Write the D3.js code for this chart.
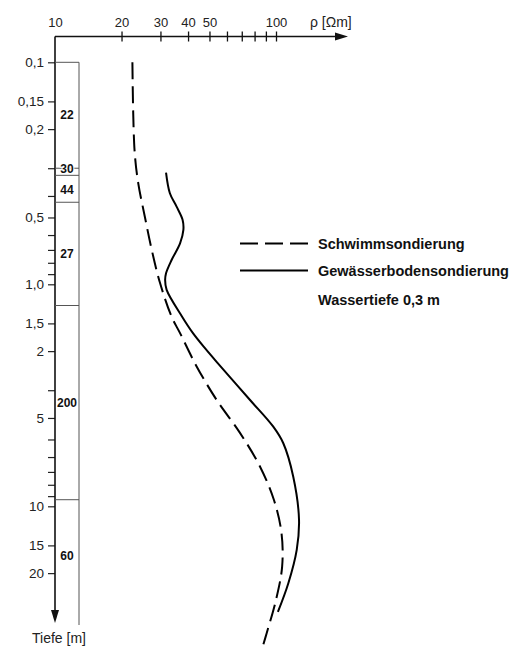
<!DOCTYPE html>
<html>
<head>
<meta charset="utf-8">
<script src="https://cdn.jsdelivr.net/npm/d3@7"></script>
<style>
  body { margin: 0; background: #fff; }
  svg { display: block; font-family: "Liberation Sans", Arial, sans-serif; }
</style>
</head>
<body>
<svg id="chart" width="518" height="646"></svg>
<script>
// resistivity axis (top)
const xTickValues = [10, 20, 30, 40, 50, 60, 70, 80, 90, 100];
const xTickLabels = ["10", "20", "30", "40", "50", "", "", "", "", "100"];

// depth axis (left)
const yLabelValues = [0.1, 0.15, 0.2, 0.5, 1, 1.5, 2, 4, 10, 15, 20];
const yLabelTexts = ["0,1", "0,15", "0,2", "0,5", "1,0", "1,5", "2", "5", "10", "15", "20"];
const yMinorValues = [0.3, 0.4, 0.6, 0.7, 0.8, 0.9, 3, 5, 6, 7, 8, 9];

// layer model
const layerTops = [0.1, 0.3, 0.323, 0.427, 1.246, 9.34];
const layerRho = [22, 30, 44, 27, 200, 60];
const layerLabelDepth = [0.173, 0.3, 0.373, 0.73, 3.4, 16.7];

// Schwimmsondierung: depth [m] / rho [Ohm m]
const swimDepth = [0.1, 0.248, 0.35, 0.496, 0.70, 0.99, 1.40, 1.66, 2.35, 3.32, 4.67, 6.63, 9.37, 13.2, 18.7, 26.4, 37.2, 42.5];
const swimRho   = [22.4, 22.9, 23.8, 25.5, 27.4, 29.9, 33.7, 36.8, 43.8, 53.9, 68.7, 84.7, 97.9, 105.9, 106.6, 100.0, 90.8, 87.3];

// Gewaesserbodensondierung
const bottomDepth = [0.314, 0.389, 0.447, 0.513, 0.569, 0.654, 0.777, 0.892, 0.957, 1.06, 1.40, 1.66, 1.94, 2.27, 3.32, 4.38, 5.2, 7.36, 11.5, 15.7, 22.2, 29.9];
const bottomRho   = [31.8, 33.1, 35.5, 37.8, 38.1, 36.8, 33.7, 31.8, 31.5, 32.0, 37.6, 42.1, 47.7, 54.6, 76.3, 97.2, 107.9, 119.7, 127.1, 124.1, 113.7, 102.0];

const seriesNames = ["Schwimmsondierung", "Gewässerbodensondierung"];
const noteText = "Wassertiefe 0,3 m";

const svg = d3.select("#chart");
const originX = 55, originY = 36.5;

const x = d3.scaleLog().domain([10, 100]).range([55, 276]);
const y = d3.scaleLog().domain([0.1, 10]).range([62.3, 506.3]);

// x axis
const gx = svg.append("g")
  .attr("transform", "translate(0," + originY + ")")
  .call(d3.axisTop(x)
    .tickValues(xTickValues)
    .tickFormat((d, i) => xTickLabels[i])
    .tickSizeInner(5)
    .tickSizeOuter(0)
    .tickPadding(5));
gx.select(".domain").remove();
gx.attr("font-size", 13).attr("font-family", null);
gx.selectAll(".tick line").attr("y1", 5).attr("stroke", "#111").attr("stroke-width", 1.3);
gx.selectAll(".tick").filter(d => d === 10).select("line").remove();
gx.selectAll(".tick text").attr("fill", "#222");

svg.append("line")
  .attr("x1", originX).attr("x2", 337)
  .attr("y1", originY).attr("y2", originY)
  .attr("stroke", "#111").attr("stroke-width", 1.6);
svg.append("path")
  .attr("d", "M335," + (originY - 4) + "L348," + originY + "L335," + (originY + 4) + "Z")
  .attr("fill", "#111");
svg.append("text")
  .attr("x", 310).attr("y", 26.5)
  .attr("font-size", 14).attr("fill", "#222")
  .text("ρ [Ωm]");

// y axis
const gy = svg.append("g")
  .attr("transform", "translate(" + originX + ",0)")
  .call(d3.axisLeft(y)
    .tickValues(yLabelValues.concat(yMinorValues))
    .tickFormat(d => {
      const i = yLabelValues.indexOf(d);
      return i >= 0 ? yLabelTexts[i] : "";
    })
    .tickSize(7)
    .tickPadding(4));
gy.select(".domain").remove();
gy.attr("font-size", 13.5).attr("font-family", null);
gy.selectAll(".tick line").attr("stroke", "#222").attr("stroke-width", 1.2);
gy.selectAll(".tick text").attr("fill", "#222");

svg.append("line")
  .attr("x1", originX).attr("x2", originX)
  .attr("y1", originY).attr("y2", 612)
  .attr("stroke", "#111").attr("stroke-width", 1.6);
svg.append("path")
  .attr("d", "M" + (originX - 4) + ",610L" + originX + ",623L" + (originX + 4) + ",610Z")
  .attr("fill", "#111");
svg.append("text")
  .attr("x", 59).attr("y", 643)
  .attr("text-anchor", "middle")
  .attr("font-size", 14).attr("fill", "#222")
  .text("Tiefe [m]");

// layer column
const colRight = 79;
svg.append("line")
  .attr("x1", colRight).attr("x2", colRight)
  .attr("y1", y(layerTops[0])).attr("y2", 625)
  .attr("stroke", "#555").attr("stroke-width", 1);
svg.selectAll(".layer-line")
  .data(layerTops)
  .enter().append("line")
  .attr("class", "layer-line")
  .attr("x1", originX).attr("x2", colRight)
  .attr("y1", d => y(d)).attr("y2", d => y(d))
  .attr("stroke", "#555").attr("stroke-width", 1);
svg.selectAll(".layer-label")
  .data(layerRho)
  .enter().append("text")
  .attr("class", "layer-label")
  .attr("x", 67)
  .attr("y", (d, i) => y(layerLabelDepth[i]))
  .attr("dy", "0.36em")
  .attr("text-anchor", "middle")
  .attr("font-size", 12).attr("font-weight", "bold")
  .attr("fill", "#111")
  .attr("stroke", "#fff").attr("stroke-width", 2).attr("paint-order", "stroke")
  .text(d => d);

// curves
const line = d3.line()
  .x(d => x(d[1]))
  .y(d => y(d[0]))
  .curve(d3.curveCatmullRom.alpha(0.5));

svg.append("path")
  .datum(d3.zip(swimDepth, swimRho))
  .attr("d", line)
  .attr("fill", "none")
  .attr("stroke", "#000").attr("stroke-width", 2)
  .attr("stroke-dasharray", "17,7");

svg.append("path")
  .datum(d3.zip(bottomDepth, bottomRho))
  .attr("d", line)
  .attr("fill", "none")
  .attr("stroke", "#000").attr("stroke-width", 2);

// legend
const legend = svg.append("g").attr("transform", "translate(240,243.5)");
legend.selectAll(".legend-line")
  .data(seriesNames)
  .enter().append("line")
  .attr("x1", 0).attr("x2", 68)
  .attr("y1", (d, i) => i * 27).attr("y2", (d, i) => i * 27)
  .attr("stroke", "#000").attr("stroke-width", 2)
  .attr("stroke-dasharray", (d, i) => i === 0 ? "18,7" : null);
legend.selectAll(".legend-text")
  .data(seriesNames.concat([noteText]))
  .enter().append("text")
  .attr("x", 78)
  .attr("y", (d, i) => i < 2 ? i * 27 : 56)
  .attr("dy", "0.36em")
  .attr("font-size", 14.5).attr("font-weight", "bold")
  .attr("fill", "#111")
  .text(d => d);
</script>
</body>
</html>
